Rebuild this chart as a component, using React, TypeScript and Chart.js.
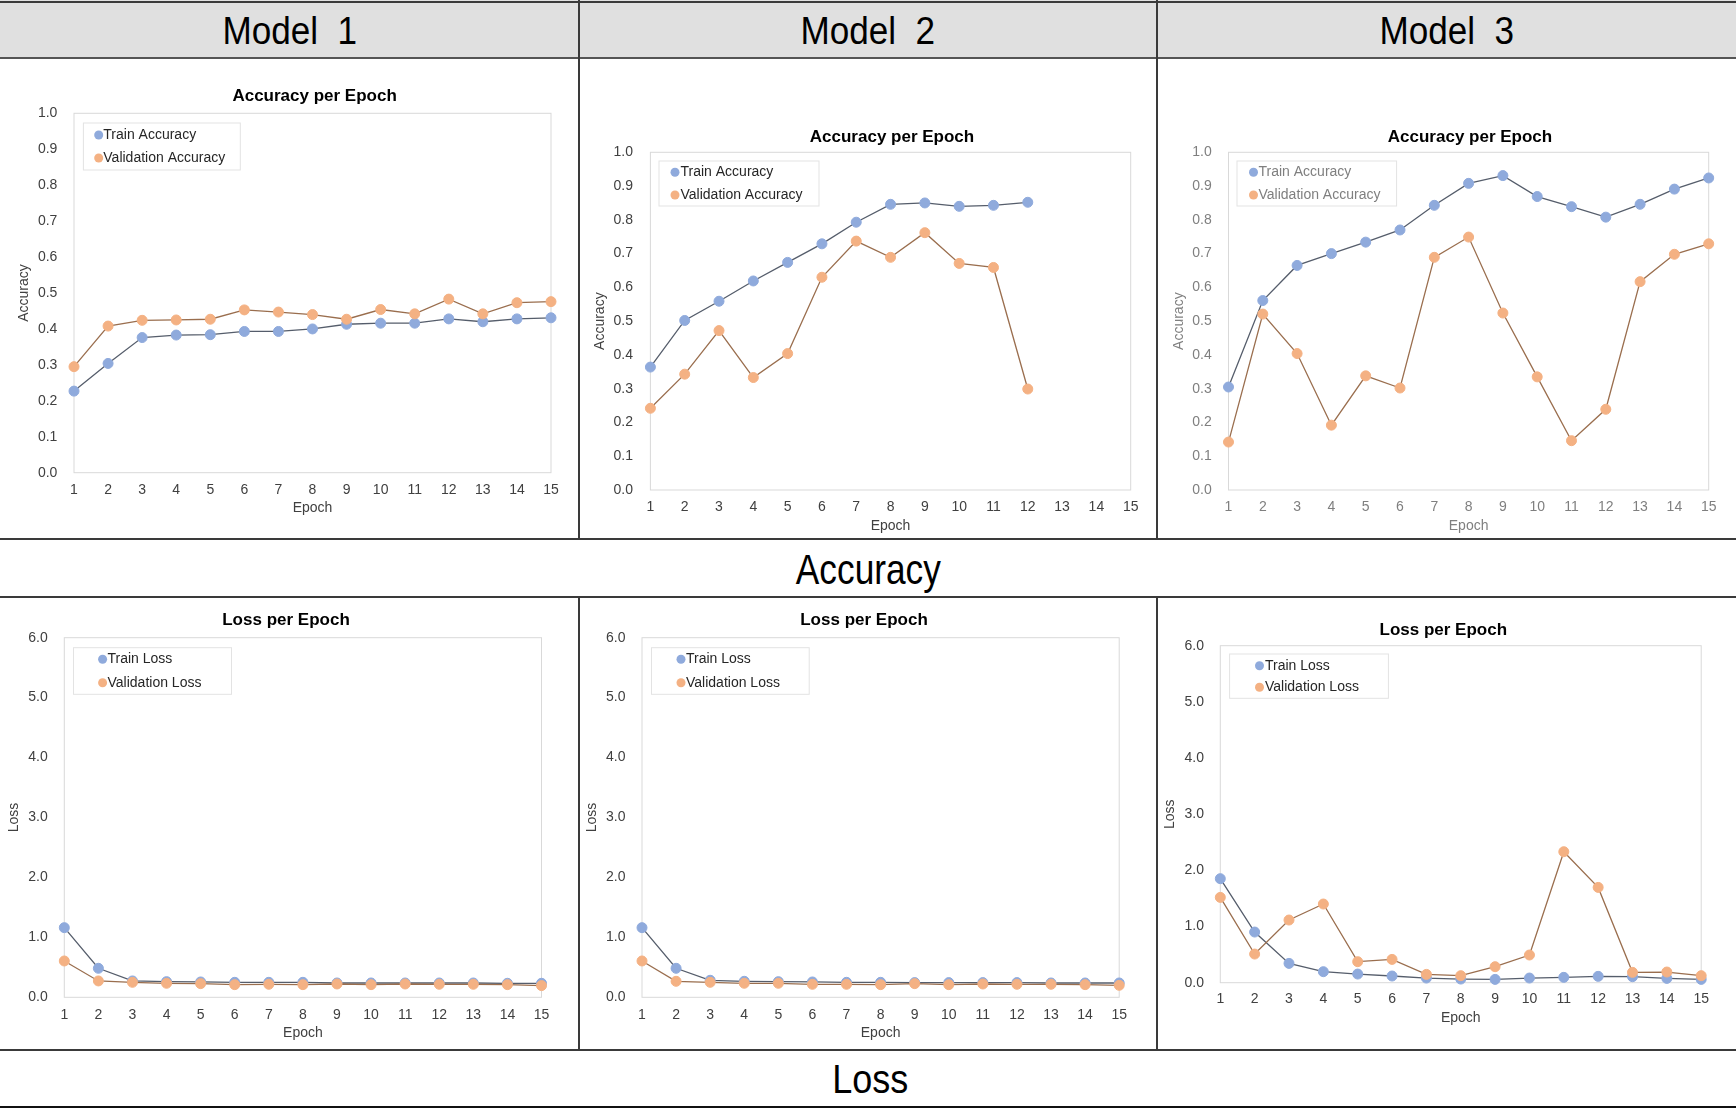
import React, { useEffect, useRef } from "react";
import { Chart, registerables } from "chart.js";

Chart.register(...registerables);

const FONT = "'Liberation Sans', Arial, Helvetica, sans-serif";

// ---------------- data ----------------
const epochs = ["1", "2", "3", "4", "5", "6", "7", "8", "9", "10", "11", "12", "13", "14", "15"];
const modelNames = ["Model  1", "Model  2", "Model  3"];
const sectionNames = ["Accuracy", "Loss"];

const m1TrainAcc = [0.227, 0.304, 0.376, 0.383, 0.384, 0.393, 0.393, 0.4, 0.413, 0.416, 0.416, 0.428, 0.42, 0.428, 0.431];
const m1ValAcc = [0.295, 0.408, 0.424, 0.425, 0.427, 0.453, 0.447, 0.44, 0.427, 0.454, 0.442, 0.483, 0.442, 0.473, 0.476];
const m2TrainAcc = [0.364, 0.502, 0.559, 0.619, 0.674, 0.729, 0.793, 0.846, 0.85, 0.84, 0.843, 0.852];
const m2ValAcc = [0.242, 0.343, 0.472, 0.333, 0.404, 0.63, 0.737, 0.689, 0.762, 0.671, 0.659, 0.299];
const m3TrainAcc = [0.305, 0.561, 0.665, 0.7, 0.734, 0.77, 0.843, 0.908, 0.931, 0.869, 0.839, 0.808, 0.846, 0.891, 0.924];
const m3ValAcc = [0.142, 0.521, 0.404, 0.192, 0.338, 0.302, 0.689, 0.749, 0.524, 0.335, 0.146, 0.239, 0.617, 0.698, 0.729];

const m1TrainLoss = [1.162, 0.484, 0.273, 0.261, 0.256, 0.25, 0.25, 0.25, 0.239, 0.239, 0.239, 0.239, 0.239, 0.234, 0.234];
const m1ValLoss = [0.606, 0.273, 0.25, 0.234, 0.228, 0.211, 0.217, 0.211, 0.222, 0.211, 0.222, 0.217, 0.217, 0.211, 0.195];
const m2TrainLoss = [1.162, 0.484, 0.284, 0.267, 0.261, 0.256, 0.25, 0.25, 0.245, 0.245, 0.245, 0.245, 0.239, 0.239, 0.239];
const m2ValLoss = [0.606, 0.267, 0.25, 0.234, 0.234, 0.217, 0.217, 0.211, 0.228, 0.211, 0.222, 0.217, 0.217, 0.211, 0.2];
const m3TrainLoss = [1.852, 0.902, 0.344, 0.196, 0.154, 0.119, 0.083, 0.065, 0.059, 0.083, 0.095, 0.113, 0.107, 0.077, 0.059];
const m3ValLoss = [1.519, 0.51, 1.116, 1.401, 0.374, 0.415, 0.148, 0.125, 0.285, 0.493, 2.332, 1.697, 0.184, 0.19, 0.125];

const accAxis = { min: 0, max: 1, step: 0.1 };
const lossAxis = { min: 0, max: 6, step: 1 };

// ---------------- styles / layout ----------------
const BLUE = "#8faadc";
const ORANGE = "#f4b183";
const TRAIN_LINE = "#555d6b";
const VAL_LINE = "#9a6e4e";

type Geo = {
  cell: number[];
  plot: number[];
  title: number[];
  yLabelRight: number;
  yTitleX: number;
  xLabelY: number;
  xTitleY: number;
  legend: number[];
  rows: number[];
  dotX: number;
  textX: number;
  textColor: string;
  legendColor: string;
};

const geo: Geo[] = [
  { cell: [0, 58, 578, 538], plot: [74, 113.3, 551, 472.7], title: [314.6, 96.7], yLabelRight: 57.4, yTitleX: 23.7, xLabelY: 490, xTitleY: 508.3, legend: [83.4, 123, 240.3, 170], rows: [135, 158], dotX: 98.7, textX: 103.3, textColor: "#404040", legendColor: "#262626" },
  { cell: [580, 58, 1156, 538], plot: [650.4, 152.3, 1130.7, 490], title: [892, 137.3], yLabelRight: 633, yTitleX: 600.6, xLabelY: 507.3, xTitleY: 525.7, legend: [659, 161, 819, 206], rows: [172.3, 195], dotX: 675, textX: 680.5, textColor: "#404040", legendColor: "#262626" },
  { cell: [1158, 58, 1736, 538], plot: [1228.5, 152.3, 1708.7, 490], title: [1470, 137.3], yLabelRight: 1211.7, yTitleX: 1179, xLabelY: 507, xTitleY: 525.7, legend: [1237, 161, 1396.6, 206], rows: [172.3, 195], dotX: 1253.5, textX: 1258.5, textColor: "#7f7f7f", legendColor: "#7f7f7f" },
  { cell: [0, 598, 578, 1049], plot: [64.3, 637.7, 541.5, 997.3], title: [286, 620.7], yLabelRight: 47.8, yTitleX: 14.5, xLabelY: 1015, xTitleY: 1033, legend: [73.5, 647.7, 231.5, 694.3], rows: [659.3, 682.7], dotX: 102.6, textX: 107.5, textColor: "#404040", legendColor: "#262626" },
  { cell: [580, 598, 1156, 1049], plot: [642, 637.7, 1119.2, 997.3], title: [864, 620.7], yLabelRight: 625.5, yTitleX: 592, xLabelY: 1015, xTitleY: 1033, legend: [651.5, 647.7, 809.2, 694.3], rows: [659.3, 682.7], dotX: 681, textX: 686, textColor: "#404040", legendColor: "#262626" },
  { cell: [1158, 598, 1736, 1049], plot: [1220.3, 645.7, 1701.2, 982.7], title: [1443.3, 630], yLabelRight: 1204, yTitleX: 1170.6, xLabelY: 999.3, xTitleY: 1017.7, legend: [1229.6, 654, 1388.4, 698.3], rows: [665.7, 687.3], dotX: 1259.5, textX: 1265, textColor: "#404040", legendColor: "#262626" },
];

type PanelProps = {
  g: Geo;
  title: string;
  yTitle: string;
  axis: { min: number; max: number; step: number };
  train: number[];
  val: number[];
  trainLabel: string;
  valLabel: string;
};

function Panel({ g, title, yTitle, axis, train, val, trainLabel, valLabel }: PanelProps) {
  const ref = useRef<HTMLCanvasElement | null>(null);
  const [cx0, cy0, cx1, cy1] = g.cell;
  const W = cx1 - cx0;
  const H = cy1 - cy0;

  useEffect(() => {
    if (!ref.current) return;
    const fs = 14;
    const lh = fs * 1.2;
    const L = g.plot[0] - cx0;
    const T = g.plot[1] - cy0;
    const R = g.plot[2] - cx0;
    const B = g.plot[3] - cy0;

    const decor = {
      id: "panelDecor",
      beforeDatasetsDraw(chart: any) {
        const ctx = chart.ctx;
        const a = chart.chartArea;
        ctx.save();
        ctx.strokeStyle = "#d9d9d9";
        ctx.lineWidth = 1;
        ctx.strokeRect(a.left, a.top, a.right - a.left, a.bottom - a.top);
        ctx.restore();
      },
      afterDraw(chart: any) {
        const ctx = chart.ctx;
        ctx.save();
        // title
        ctx.fillStyle = "#000";
        ctx.font = `bold 17px ${FONT}`;
        ctx.textAlign = "center";
        ctx.textBaseline = "middle";
        ctx.fillText(title, g.title[0] - cx0, g.title[1] - cy0);
        // legend box
        const [lx0, ly0, lx1, ly1] = g.legend;
        ctx.fillStyle = "#ffffff";
        ctx.fillRect(lx0 - cx0, ly0 - cy0, lx1 - lx0, ly1 - ly0);
        ctx.strokeStyle = "#e3e3e3";
        ctx.lineWidth = 1;
        ctx.strokeRect(lx0 - cx0, ly0 - cy0, lx1 - lx0, ly1 - ly0);
        const items = [
          { text: trainLabel, color: BLUE },
          { text: valLabel, color: ORANGE },
        ];
        ctx.font = `14px ${FONT}`;
        ctx.textAlign = "left";
        items.forEach((it, i) => {
          const y = g.rows[i] - cy0;
          ctx.beginPath();
          ctx.fillStyle = it.color;
          ctx.arc(g.dotX - cx0, y, 4.5, 0, Math.PI * 2);
          ctx.fill();
          ctx.fillStyle = g.legendColor;
          ctx.fillText(it.text, g.textX - cx0, y);
        });
        ctx.restore();
      },
    };

    const chart = new Chart(ref.current, {
      type: "line",
      data: {
        labels: epochs,
        datasets: [
          {
            label: trainLabel,
            data: train,
            borderColor: TRAIN_LINE,
            borderWidth: 1.3,
            backgroundColor: BLUE,
            pointBackgroundColor: BLUE,
            pointBorderColor: BLUE,
            pointBorderWidth: 1,
            pointRadius: 5,
            tension: 0,
            clip: false as any,
            order: 1,
          },
          {
            label: valLabel,
            data: val,
            borderColor: VAL_LINE,
            borderWidth: 1.3,
            backgroundColor: ORANGE,
            pointBackgroundColor: ORANGE,
            pointBorderColor: ORANGE,
            pointBorderWidth: 1,
            pointRadius: 5,
            tension: 0,
            clip: false as any,
            order: 0,
          },
        ],
      },
      options: {
        animation: false,
        responsive: false,
        maintainAspectRatio: false,
        layout: { padding: { left: 0, top: T, right: W - R, bottom: 0 } },
        plugins: {
          legend: { display: false },
          title: { display: false },
          tooltip: { enabled: false },
        },
        scales: {
          x: {
            type: "category",
            offset: false,
            grid: { display: false, drawTicks: false },
            border: { display: false },
            ticks: {
              autoSkip: false,
              maxRotation: 0,
              padding: g.xLabelY - g.plot[3] - lh / 2,
              font: { family: FONT, size: fs },
              color: g.textColor,
            },
            title: {
              display: true,
              text: "Epoch",
              font: { family: FONT, size: fs },
              color: g.textColor,
              padding: { top: 0, bottom: cy1 - g.xTitleY - lh / 2 },
            },
            afterFit: (s: any) => {
              s.height = H - B;
            },
          },
          y: {
            type: "linear",
            min: axis.min,
            max: axis.max,
            grid: { display: false, drawTicks: false },
            border: { display: false },
            ticks: {
              stepSize: axis.step,
              padding: g.plot[0] - g.yLabelRight,
              font: { family: FONT, size: fs },
              color: g.textColor,
              callback: (v: any) => Number(v).toFixed(1),
            },
            title: {
              display: true,
              text: yTitle,
              font: { family: FONT, size: fs },
              color: g.textColor,
              padding: { top: g.yTitleX - cx0 - lh / 2, bottom: 0 },
            },
            afterFit: (s: any) => {
              s.width = L;
            },
          },
        },
      },
      plugins: [decor],
    } as any);
    return () => chart.destroy();
  }, []);

  return (
    <canvas
      ref={ref}
      width={W}
      height={H}
      style={{ position: "absolute", left: cx0, top: cy0, width: W, height: H }}
    />
  );
}

function HLine({ y, h = 1.5, color = "#3a3a3a" }: { y: number; h?: number; color?: string }) {
  return <div style={{ position: "absolute", left: 0, top: y - h / 2, width: 1736, height: h, background: color }} />;
}
function VLine({ x, y0, y1 }: { x: number; y0: number; y1: number }) {
  return <div style={{ position: "absolute", left: x - 0.8, top: y0, width: 1.6, height: y1 - y0, background: "#3a3a3a" }} />;
}

function BigLabel({ text, cx, cy, size, sx }: { text: string; cx: number; cy: number; size: number; sx: number }) {
  return (
    <div
      style={{
        position: "absolute",
        left: cx - 300,
        width: 600,
        top: cy - size / 2,
        height: size,
        lineHeight: `${size}px`,
        fontSize: size,
        fontFamily: FONT,
        color: "#000",
        textAlign: "center",
        whiteSpace: "pre",
      }}
    >
      <span style={{ display: "inline-block", transform: `scaleX(${sx})` }}>{text}</span>
    </div>
  );
}

export default function App() {
  const colCenters = [289.5, 868, 1446.5];
  return (
    <div style={{ position: "absolute", left: 0, top: 0, width: 1736, height: 1108, background: "#fff", overflow: "hidden" }}>
      <div style={{ position: "absolute", left: 0, top: 0, width: 1736, height: 57, background: "#e0e0e0" }} />
      {modelNames.map((m, i) => (
        <BigLabel key={m} text={m} cx={colCenters[i]} cy={30.5} size={39} sx={0.9} />
      ))}
      <BigLabel text={sectionNames[0]} cx={868} cy={569.5} size={42} sx={0.84} />
      <BigLabel text={sectionNames[1]} cx={870} cy={1079} size={40} sx={0.9} />

      <Panel g={geo[0]} title="Accuracy per Epoch" yTitle="Accuracy" axis={accAxis} train={m1TrainAcc} val={m1ValAcc} trainLabel="Train Accuracy" valLabel="Validation Accuracy" />
      <Panel g={geo[1]} title="Accuracy per Epoch" yTitle="Accuracy" axis={accAxis} train={m2TrainAcc} val={m2ValAcc} trainLabel="Train Accuracy" valLabel="Validation Accuracy" />
      <Panel g={geo[2]} title="Accuracy per Epoch" yTitle="Accuracy" axis={accAxis} train={m3TrainAcc} val={m3ValAcc} trainLabel="Train Accuracy" valLabel="Validation Accuracy" />
      <Panel g={geo[3]} title="Loss per Epoch" yTitle="Loss" axis={lossAxis} train={m1TrainLoss} val={m1ValLoss} trainLabel="Train Loss" valLabel="Validation Loss" />
      <Panel g={geo[4]} title="Loss per Epoch" yTitle="Loss" axis={lossAxis} train={m2TrainLoss} val={m2ValLoss} trainLabel="Train Loss" valLabel="Validation Loss" />
      <Panel g={geo[5]} title="Loss per Epoch" yTitle="Loss" axis={lossAxis} train={m3TrainLoss} val={m3ValLoss} trainLabel="Train Loss" valLabel="Validation Loss" />

      <HLine y={1.5} h={2} />
      <HLine y={57.5} h={2} color="#555" />
      <HLine y={539} />
      <HLine y={597} />
      <HLine y={1050} />
      <HLine y={1107} h={2} color="#111" />
      <VLine x={579} y0={0} y1={539} />
      <VLine x={1157} y0={0} y1={539} />
      <VLine x={579} y0={597} y1={1050} />
      <VLine x={1157} y0={597} y1={1050} />
    </div>
  );
}
